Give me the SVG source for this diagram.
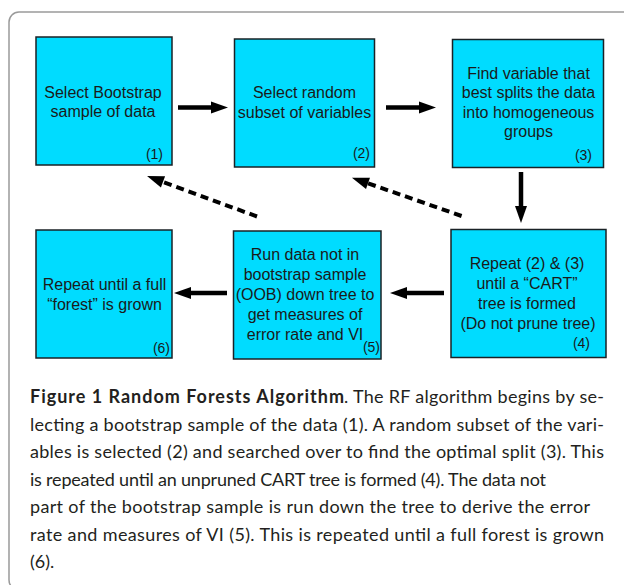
<svg xmlns="http://www.w3.org/2000/svg" width="624" height="585" viewBox="0 0 624 585">
  <style>
    .box { fill: #00dcff; stroke: #1a2226; stroke-width: 1.5; }
    .lbl { font-family: "Liberation Sans", Arial, sans-serif; font-size: 16px; fill: #1a1a1a; text-anchor: middle; }
    .num { font-family: "Liberation Sans", Arial, sans-serif; font-size: 14px; fill: #1a1a1a; text-anchor: end; }
    .solid { stroke: #000; stroke-width: 4.5; fill: none; }
    .dash { stroke: #000; stroke-width: 4; fill: none; stroke-dasharray: 8 5; }
    .cap { font-family: Lato, "Open Sans", sans-serif; font-size: 18px; fill: #231f20; }
    .capb { font-weight: bold; }
  </style>
  <defs>
    <marker id="head" markerUnits="userSpaceOnUse" markerWidth="18" markerHeight="14" refX="0" refY="6" orient="auto" overflow="visible">
      <path d="M0,0 L17,6 L0,12 z" fill="#000"/>
    </marker>
  </defs>

  <rect width="624" height="585" fill="#ffffff"/>
  <!-- figure frame -->
  <rect x="9" y="12" width="700" height="578" rx="10" ry="10" fill="none" stroke="#9a9a9a" stroke-width="1.5"/>

  <g id="node1">
    <rect class="box" x="36" y="37" width="136" height="128"/>
    <text class="lbl" x="103" y="97.5">Select Bootstrap</text>
    <text class="lbl" x="103" y="117">sample of data</text>
    <text class="num" x="163" y="159">(1)</text>
  </g>
  <g id="node2">
    <rect class="box" x="234.5" y="39" width="140" height="128"/>
    <text class="lbl" x="304.5" y="98">Select random</text>
    <text class="lbl" x="304.5" y="118">subset of variables</text>
    <text class="num" x="370" y="158">(2)</text>
  </g>
  <g id="node3">
    <rect class="box" x="452.5" y="39.5" width="151" height="128"/>
    <text class="lbl" x="528.5" y="78.5">Find variable that</text>
    <text class="lbl" x="528.5" y="98">best splits the data</text>
    <text class="lbl" x="528.5" y="117.5">into homogeneous</text>
    <text class="lbl" x="528.5" y="137">groups</text>
    <text class="num" x="592" y="160">(3)</text>
  </g>
  <g id="node4">
    <rect class="box" x="451" y="229.5" width="155" height="128"/>
    <text class="lbl" x="527" y="269">Repeat (2) &amp; (3)</text>
    <text class="lbl" x="527" y="289">until a “CART”</text>
    <text class="lbl" x="527" y="309">tree is formed</text>
    <text class="lbl" x="528" y="329">(Do not prune tree)</text>
    <text class="num" x="590" y="348">(4)</text>
  </g>
  <g id="node5">
    <rect class="box" x="233.5" y="231" width="147.5" height="128"/>
    <text class="lbl" x="305" y="260">Run data not in</text>
    <text class="lbl" x="305" y="280">bootstrap sample</text>
    <text class="lbl" x="305" y="300">(OOB) down tree to</text>
    <text class="lbl" x="305" y="319.5">get measures of</text>
    <text class="lbl" x="305" y="339.5">error rate and VI</text>
    <text class="num" x="380" y="352">(5)</text>
  </g>
  <g id="node6">
    <rect class="box" x="36" y="230" width="136" height="128"/>
    <text class="lbl" x="104.5" y="289.5">Repeat until a full</text>
    <text class="lbl" x="104.5" y="309.5">“forest” is grown</text>
    <text class="num" x="170" y="353">(6)</text>
  </g>

  <g id="connectors">
    <line class="solid" x1="178" y1="107.5" x2="211" y2="107.5" marker-end="url(#head)"/>
    <line class="solid" x1="386" y1="107.5" x2="419" y2="107.5" marker-end="url(#head)"/>
    <line class="solid" x1="521" y1="172" x2="521" y2="206" marker-end="url(#head)"/>
    <line class="solid" x1="444" y1="293" x2="407" y2="293" marker-end="url(#head)"/>
    <line class="solid" x1="227" y1="293" x2="191" y2="293" marker-end="url(#head)"/>
    <line class="dash" x1="257" y1="216.5" x2="163" y2="181.9" marker-end="url(#head)"/>
    <line class="dash" x1="461.6" y1="216" x2="368" y2="183.3" marker-end="url(#head)"/>
  </g>

  <g id="caption">
    <text class="cap capb" x="30" y="403" textLength="314" lengthAdjust="spacing">Figure 1 Random Forests Algorithm</text>
    <text class="cap" x="344" y="403" textLength="260" lengthAdjust="spacing">. The RF algorithm begins by se-</text>
    <text class="cap" x="30" y="430.5" textLength="574" lengthAdjust="spacing">lecting a bootstrap sample of the data (1). A random subset of the vari-</text>
    <text class="cap" x="30" y="458" textLength="574" lengthAdjust="spacing">ables is selected (2) and searched over to find the optimal split (3). This</text>
    <text class="cap" x="30" y="485.5" textLength="516" lengthAdjust="spacing">is repeated until an unpruned CART tree is formed (4). The data not</text>
    <text class="cap" x="30" y="513" textLength="560" lengthAdjust="spacing">part of the bootstrap sample is run down the tree to derive the error</text>
    <text class="cap" x="30" y="540.5" textLength="574" lengthAdjust="spacing">rate and measures of VI (5). This is repeated until a full forest is grown</text>
    <text class="cap" x="30" y="568">(6).</text>
  </g>
</svg>
